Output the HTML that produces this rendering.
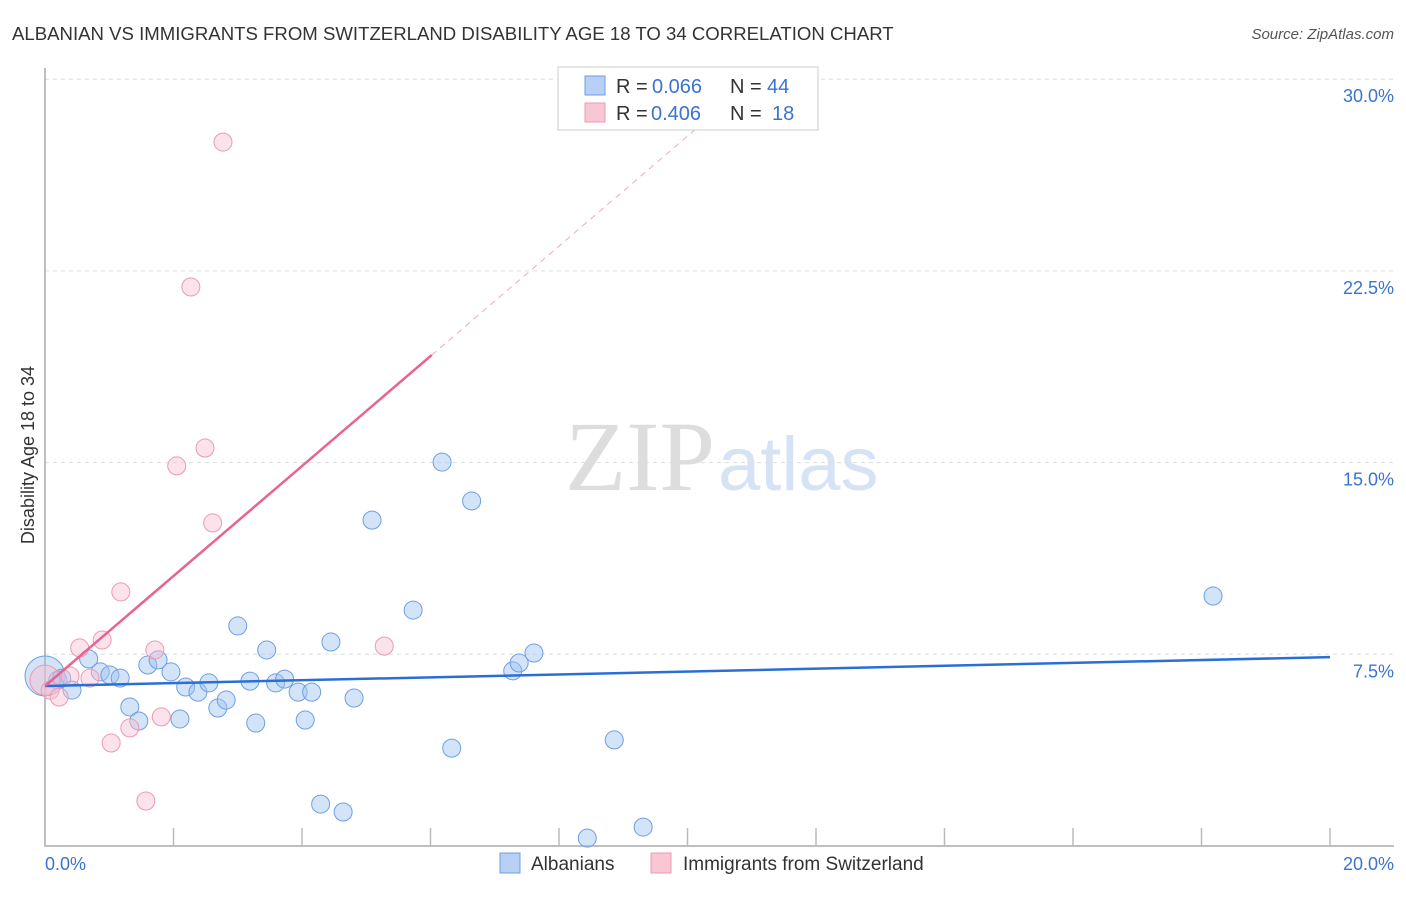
<!DOCTYPE html>
<html><head><meta charset="utf-8"><style>
body{margin:0;background:#fff;font-family:"Liberation Sans",sans-serif;}
svg text{font-family:"Liberation Sans",sans-serif;}
</style></head><body>
<svg id="chart" width="1406" height="892" xmlns="http://www.w3.org/2000/svg">
<text x="12" y="40" font-size="18.6" fill="#333">ALBANIAN VS IMMIGRANTS FROM SWITZERLAND DISABILITY AGE 18 TO 34 CORRELATION CHART</text>
<text x="1394" y="39" font-size="15" fill="#555" font-style="italic" text-anchor="end">Source: ZipAtlas.com</text>
<text x="715" y="490" font-size="100" fill="#ddd" text-anchor="end" font-family="Liberation Serif" style="font-family:'Liberation Serif',serif">ZIP</text>
<text x="718" y="490" font-size="76" fill="#d6e3f5">atlas</text>
<g id="grid"></g><g id="axes"></g><g id="pts"></g><g id="lines"></g>
<text transform="translate(34,455) rotate(-90)" font-size="18" fill="#333" text-anchor="middle">Disability Age 18 to 34</text>
<text x="45" y="870" font-size="18" fill="#3b73d1">0.0%</text>
<text x="1394" y="870" font-size="18" fill="#3b73d1" text-anchor="end">20.0%</text>
<g>
<rect x="558" y="67" width="260" height="63" fill="#fff" stroke="#ccc"/>
<rect x="585" y="76" width="20" height="19" fill="#b8d0f3" stroke="#6e9ee6"/>
<rect x="585" y="103" width="20" height="19" fill="#f9c6d4" stroke="#eb9ab2"/>
<text x="616" y="93" font-size="20" fill="#333">R =</text>
<text x="652" y="93" font-size="20" fill="#3b73d1">0.066</text>
<text x="730" y="93" font-size="20" fill="#333">N =</text>
<text x="767" y="93" font-size="20" fill="#3b73d1">44</text>
<text x="616" y="120" font-size="20" fill="#333">R =</text>
<text x="651" y="120" font-size="20" fill="#3b73d1">0.406</text>
<text x="730" y="120" font-size="20" fill="#333">N =</text>
<text x="772" y="120" font-size="20" fill="#3b73d1">18</text>
</g>
<g>
<rect x="500" y="853" width="20" height="20" fill="#b8d0f3" stroke="#6e9ee6"/>
<text x="531" y="870" font-size="19" fill="#333">Albanians</text>
<rect x="651" y="853" width="20" height="20" fill="#f9c6d4" stroke="#eb9ab2"/>
<text x="683" y="870" font-size="19" fill="#333">Immigrants from Switzerland</text>
</g>
</svg>
<script>
const yTicks=[7.5,15,22.5,30];
const yTickLabels=["7.5%","15.0%","22.5%","30.0%"];
const blueX=[0,0.20,0.26,0.42,0.68,0.86,1.01,1.17,1.32,1.46,1.60,1.76,1.96,2.10,2.19,2.38,2.55,2.69,2.82,3.00,3.19,3.28,3.45,3.59,3.73,3.94,4.05,4.15,4.29,4.45,4.64,4.81,5.09,5.73,6.18,6.33,6.64,7.28,7.38,7.61,8.44,8.86,9.31,18.18];
const blueY=[6.65,6.49,6.57,6.10,7.32,6.81,6.69,6.57,5.44,4.89,7.08,7.28,6.81,4.97,6.22,6.02,6.38,5.40,5.71,8.61,6.45,4.81,7.67,6.38,6.53,6.02,4.93,6.02,1.64,7.98,1.33,5.79,12.75,9.23,15.02,3.83,13.50,6.85,7.16,7.55,0.31,4.15,0.74,9.78];
const pinkX=[0,0.08,0.22,0.39,0.54,0.70,0.89,1.03,1.18,1.32,1.57,1.71,1.81,2.05,2.27,2.49,2.61,2.77,5.28];
const pinkY=[6.49,6.10,5.83,6.65,7.75,6.57,8.06,4.03,9.94,4.62,1.76,7.67,5.05,14.87,21.87,15.57,12.64,27.54,7.82];
const blueTrend=[6.26,7.39];
const pinkTrend=[6.26,19.21,6.02,10.6];
const X=v=>45+v/20*1285, Y=v=>846-v/7.5*191.7;
const NS="http://www.w3.org/2000/svg";
function mk(p,t,a){const e=document.createElementNS(NS,t);for(const k in a)e.setAttribute(k,a[k]);document.getElementById(p).appendChild(e);return e;}
yTicks.forEach((t,i)=>{
 const l=mk('grid','line',{x1:45,x2:1394,y1:Y(t),y2:Y(t),stroke:'#ddd','stroke-dasharray':'4,4'});
 
 
 const tx=mk('grid','text',{x:1394,y:Y(t)+23,'font-size':18,fill:'#3b73d1','text-anchor':'end'});
 tx.textContent=yTickLabels[i];
 
 
});
const ax=mk('axes','path',{d:'M45,68V846H1394',fill:'none',stroke:'#aaa','stroke-width':1.5});


for(let i=1;i<=10;i++){const t=mk('axes','line',{x1:X(i*2),x2:X(i*2),y1:828,y2:846,stroke:'#bbb','stroke-width':1.5});
 
 }
blueX.forEach((x,i)=>{const c=mk('pts','circle',{cx:X(x),cy:Y(blueY[i]),r:i==0?20:9,fill:'rgba(160,195,240,0.45)',stroke:'#6e9ee6','stroke-width':1});
 
 });
pinkX.forEach((x,i)=>{const c=mk('pts','circle',{cx:X(x),cy:Y(pinkY[i]),r:i==0?15:9,fill:'rgba(248,190,208,0.45)',stroke:'#eb9ab2','stroke-width':1});
 
 });
const bl=mk('lines','line',{x1:X(0),x2:X(20),y1:Y(blueTrend[0]),y2:Y(blueTrend[1]),stroke:'#2a6fd6','stroke-width':2.5});


const slope=(pinkTrend[1]-pinkTrend[0])/pinkTrend[2];
const pl=mk('lines','line',{x1:X(0),x2:X(pinkTrend[2]),y1:Y(pinkTrend[0]),y2:Y(pinkTrend[1]),stroke:'#e8648f','stroke-width':2.5});


const pd=mk('lines','line',{x1:X(pinkTrend[2]),x2:X(pinkTrend[3]),y1:Y(pinkTrend[1]),y2:Y(pinkTrend[0]+slope*pinkTrend[3]),stroke:'#f0a8bf','stroke-width':1,'stroke-dasharray':'6,5'});


</script>
</body></html>
